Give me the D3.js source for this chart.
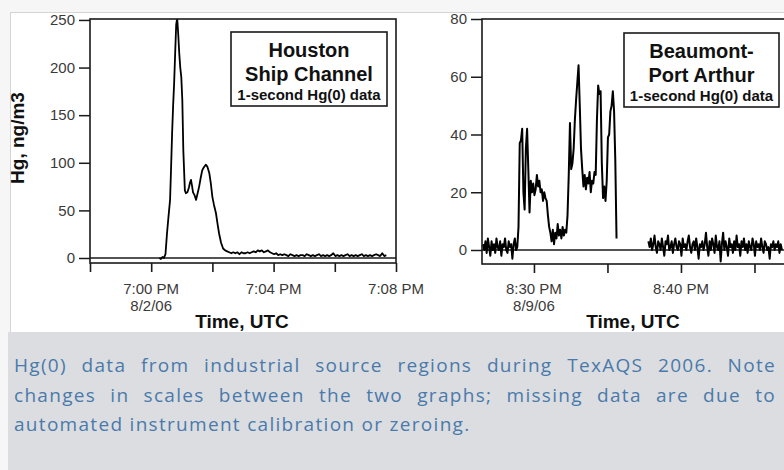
<!DOCTYPE html>
<html>
<head>
<meta charset="utf-8">
<script src="https://cdn.jsdelivr.net/npm/d3@7"></script>
<style>
  html, body { margin: 0; padding: 0; background: #f6f6f6; }
  #wrap { position: relative; width: 784px; height: 470px; overflow: hidden; }
  svg { position: absolute; left: 0; top: 0; }
  #caption {
    position: absolute; left: 8px; top: 332px; width: 776px; height: 138px;
    background: #dcdde0; box-sizing: border-box;
    padding: 19px 8px 0 6px;
    font-family: "Open Sans", sans-serif; font-size: 19px; line-height: 29.5px;
    letter-spacing: 1.3px;
    color: #4a7aab; text-align: justify;
  }
</style>
</head>
<body>
<div id="wrap">
<svg id="chart" width="784" height="470"></svg>
<div id="caption">Hg(0) data from industrial source regions during TexAQS 2006. Note changes in scales between the two graphs; missing data are due to automated instrument calibration or zeroing.</div>
</div>
<script>
// ---------------- DATA ----------------
// Houston Ship Channel, 8/2/06, seconds after 7:00:00 PM UTC
const houstonSec = [16,19,22,25,28,31,34,37,39,41,43,45,47,49,51,53,55,57,59,61,63,66,68,71,74,76,78,80,82,85,88,91,94,97,100,103,107,110,114,117,120,123,127,130,133,137,141,145,149,
  153,157,161,165,169,173,177,181,185,189,193,197,201,205,209,213,217,221,225,229,233,237,241,245,249,253,257,261,265,269,
  273,277,281,285,289,293,297,301,305,309,313,317,321,325,329,333,337,341,345,349,353,357,361,365,369,373,377,381,385,389,
  393,397,401,405,409,413,417,421,425,429,433,437,441,445,449,453,457,461];
const houstonHg = [0,-1,1,0,4,26,44,61,95,131,160,184,215,245,252,235,215,200,190,166,113,71,68,69,74,79,82,76,69,66,61,68,75,84,92,95,98,96,89,78,64,56,47,36,26,16,10,8,7,
  6,5,6,5,6,4,6,5,5,6,5,6,7,6,8,7,8,6,7,8,6,5,4,5,3,4,3,4,3,2,
  4,3,2,3,2,3,3,2,4,3,2,3,2,3,4,2,3,2,3,2,3,5,2,3,2,3,2,3,4,2,
  3,2,3,2,3,4,2,3,2,3,2,3,4,3,2,5,2,3];

// Beaumont-Port Arthur, 8/9/06, 5-second samples starting 8:26:32 PM UTC (null = calibration/zeroing)
const bpaStartSec = -208;   // seconds relative to 8:30:00 PM
const bpaStepSec = 5;
const bpaHg = [
  2,0,3,-1,4,1,-2,3,0,2,-1,4,1,0,3,-2,2,1,4,0,-1,3,1,2,-3,2,4,0,1,
  8,37,38,42,20,14,35,42,28,13,24,20,23,19,21,26,22,24,20,21,17,20,18,17,12,8,
  6,3,7,2,6,4,9,5,7,4,8,5,7,6,
  12,26,44,28,30,35,45,52,58,64,50,35,28,
  22,26,21,25,23,27,20,24,23,27,26,
  45,57,54,55,30,18,22,17,24,39,40,48,50,55,48,31,4,
  null,null,null,null,null,null,null,null,null,null,null,null,null,null,null,null,null,null,null,null,null,null,null,null,null,
  3,1,4,0,2,5,1,-1,3,2,0,4,1,-2,3,2,5,0,1,3,-1,2,4,1,0,3,2,-2,4,1,
  2,0,3,5,1,-1,2,3,0,4,1,-3,2,1,3,0,2,6,1,-2,3,0,4,2,-1,5,1,0,3,-4,
  2,6,0,3,1,-2,4,1,2,-1,3,0,5,1,2,-2,3,1,4,0,2,-1,3,1,0,4,2,-2,3,1,
  2,0,4,1,-1,3,2,0,1,-3,2,1,3,0,2,1,3,-1,2,0
];

const leftYTicks = [0, 50, 100, 150, 200, 250];
const rightYTicks = [0, 20, 40, 60, 80];
const leftXLabels = {"19:00": ["7:00 PM", "8/2/06"], "19:04": ["7:04 PM"], "19:08": ["7:08 PM"]};
const rightXLabels = {"20:30": ["8:30 PM", "8/9/06"], "20:40": ["8:40 PM"]};
const leftTitle = ["Houston", "Ship Channel", "1-second Hg(0) data"];
const rightTitle = ["Beaumont-", "Port Arthur", "1-second Hg(0) data"];
const yTitle = "Hg, ng/m3";
const xTitle = "Time, UTC";

// ---------------- DRAW ----------------
const svg = d3.select("#chart");
const FONT = "'Liberation Sans', Arial, sans-serif";
const INK = "#1a1a1a";

svg.append("rect").attr("x", 10.5).attr("y", 12.5).attr("width", 780).attr("height", 320)
  .attr("fill", "#fff").attr("stroke", "#d4d4d4");

function fmtKey(d) { return d3.timeFormat("%H:%M")(d); }

function panel(cfg) {
  const g = svg.append("g");
  const x = d3.scaleTime().domain(cfg.xDomain).range(cfg.xRange);
  const y = d3.scaleLinear().domain(cfg.yDomain).range(cfg.yRange);
  const [x0, x1] = cfg.xRange, [yb, yt] = cfg.yRange;
  const clipId = "clip" + cfg.id;
  svg.append("clipPath").attr("id", clipId).append("rect")
    .attr("x", x0).attr("y", yt).attr("width", x1 - x0).attr("height", yb - yt);

  // zero reference line
  g.append("line").attr("x1", x0).attr("x2", x1).attr("y1", y(0)).attr("y2", y(0))
    .attr("stroke", INK).attr("stroke-width", 1.5);

  // data
  const line = d3.line().defined(d => d.v != null).x(d => x(d.t)).y(d => y(d.v));
  g.append("path").datum(cfg.data).attr("clip-path", `url(#${clipId})`)
    .attr("d", line).attr("fill", "none").attr("stroke", "#000")
    .attr("stroke-width", cfg.lineWidth).attr("stroke-linejoin", "round");

  // frame
  g.append("rect").attr("x", x0).attr("y", yt).attr("width", x1 - x0).attr("height", yb - yt)
    .attr("fill", "none").attr("stroke", INK).attr("stroke-width", 1.6);

  // y axis
  const ya = g.append("g").attr("transform", `translate(${x0},0)`)
    .call(d3.axisLeft(y).tickValues(cfg.yTicks).tickSize(11).tickPadding(4));
  ya.select(".domain").remove();
  ya.selectAll(".tick line").attr("stroke", INK).attr("stroke-width", 1.5);
  ya.selectAll(".tick text").attr("font-size", 15).attr("fill", "#3a3a3a").attr("font-family", FONT);

  // x axis
  const xa = g.append("g").attr("transform", `translate(0,${yb})`)
    .call(d3.axisBottom(x).tickValues(cfg.xTicks).tickSize(9).tickFormat(""));
  xa.select(".domain").remove();
  xa.selectAll(".tick line").attr("stroke", INK).attr("stroke-width", 1.6);
  cfg.xTicks.forEach(t => {
    const lab = cfg.xLabels[fmtKey(t)];
    if (!lab) return;
    lab.forEach((s, i) => {
      g.append("text").attr("x", x(t)).attr("y", 293.5 + i * 17)
        .attr("text-anchor", "middle").attr("font-family", FONT).attr("font-size", 15)
        .attr("fill", "#3a3a3a").text(s);
    });
  });
  g.append("text").attr("x", cfg.xTitleX).attr("y", 328).attr("text-anchor", "middle")
    .attr("font-family", FONT).attr("font-weight", "bold").attr("font-size", 19)
    .attr("fill", "#111").text(xTitle);

  // title box
  const b = cfg.box;
  g.append("rect").attr("x", b.x).attr("y", b.y).attr("width", b.w).attr("height", b.h)
    .attr("fill", "#fff").attr("stroke", INK).attr("stroke-width", 1.6);
  const cx = b.x + b.w / 2;
  g.append("text").attr("x", cx).attr("y", b.y + 24.5).attr("text-anchor", "middle")
    .attr("font-family", FONT).attr("font-weight", "bold").attr("font-size", 20).attr("fill", "#111").text(cfg.title[0]);
  g.append("text").attr("x", cx).attr("y", b.y + 48.5).attr("text-anchor", "middle")
    .attr("font-family", FONT).attr("font-weight", "bold").attr("font-size", 20).attr("fill", "#111").text(cfg.title[1]);
  g.append("text").attr("x", cx).attr("y", b.y + 67.5).attr("text-anchor", "middle")
    .attr("font-family", FONT).attr("font-weight", "bold").attr("font-size", 15).attr("fill", "#111").text(cfg.title[2]);
}

// Left panel
const hBase = new Date(2006, 7, 2, 19, 0, 0);
const houstonData = houstonSec.map((s, i) => ({t: new Date(+hBase + s * 1000), v: houstonHg[i]}));
panel({
  id: "L",
  xDomain: [new Date(2006, 7, 2, 18, 58), new Date(2006, 7, 2, 19, 8)],
  xRange: [90, 396],
  yDomain: [-5.25, 251],
  yRange: [263, 19],
  yTicks: leftYTicks,
  xTicks: d3.timeMinute.every(2).range(new Date(2006, 7, 2, 18, 58), new Date(2006, 7, 2, 19, 8, 1)),
  xLabels: leftXLabels,
  xTitleX: 242,
  data: houstonData,
  lineWidth: 1.8,
  box: {x: 231, y: 32, w: 156, h: 74},
  title: leftTitle
});

// Right panel
const bBase = new Date(2006, 7, 9, 20, 30, 0);
const bpaData = bpaHg.map((v, i) => ({t: new Date(+bBase + (bpaStartSec + i * bpaStepSec) * 1000), v: v}));
panel({
  id: "R",
  xDomain: [new Date(+bBase - 212 * 1000), new Date(2006, 7, 9, 20, 50)],
  xRange: [482, 828],
  yDomain: [-4.85, 80],
  yRange: [264, 19],
  yTicks: rightYTicks,
  xTicks: d3.timeMinute.every(5).range(new Date(2006, 7, 9, 20, 30), new Date(2006, 7, 9, 20, 46)),
  xLabels: rightXLabels,
  xTitleX: 633,
  data: bpaData,
  lineWidth: 2,
  box: {x: 624, y: 33, w: 155, h: 74},
  title: rightTitle
});

// y-axis title (left)
svg.append("text").attr("transform", "translate(24,138) rotate(-90)")
  .attr("text-anchor", "middle").attr("font-family", FONT).attr("font-weight", "bold")
  .attr("font-size", 19).attr("fill", "#111").text(yTitle);
</script>
</body>
</html>
